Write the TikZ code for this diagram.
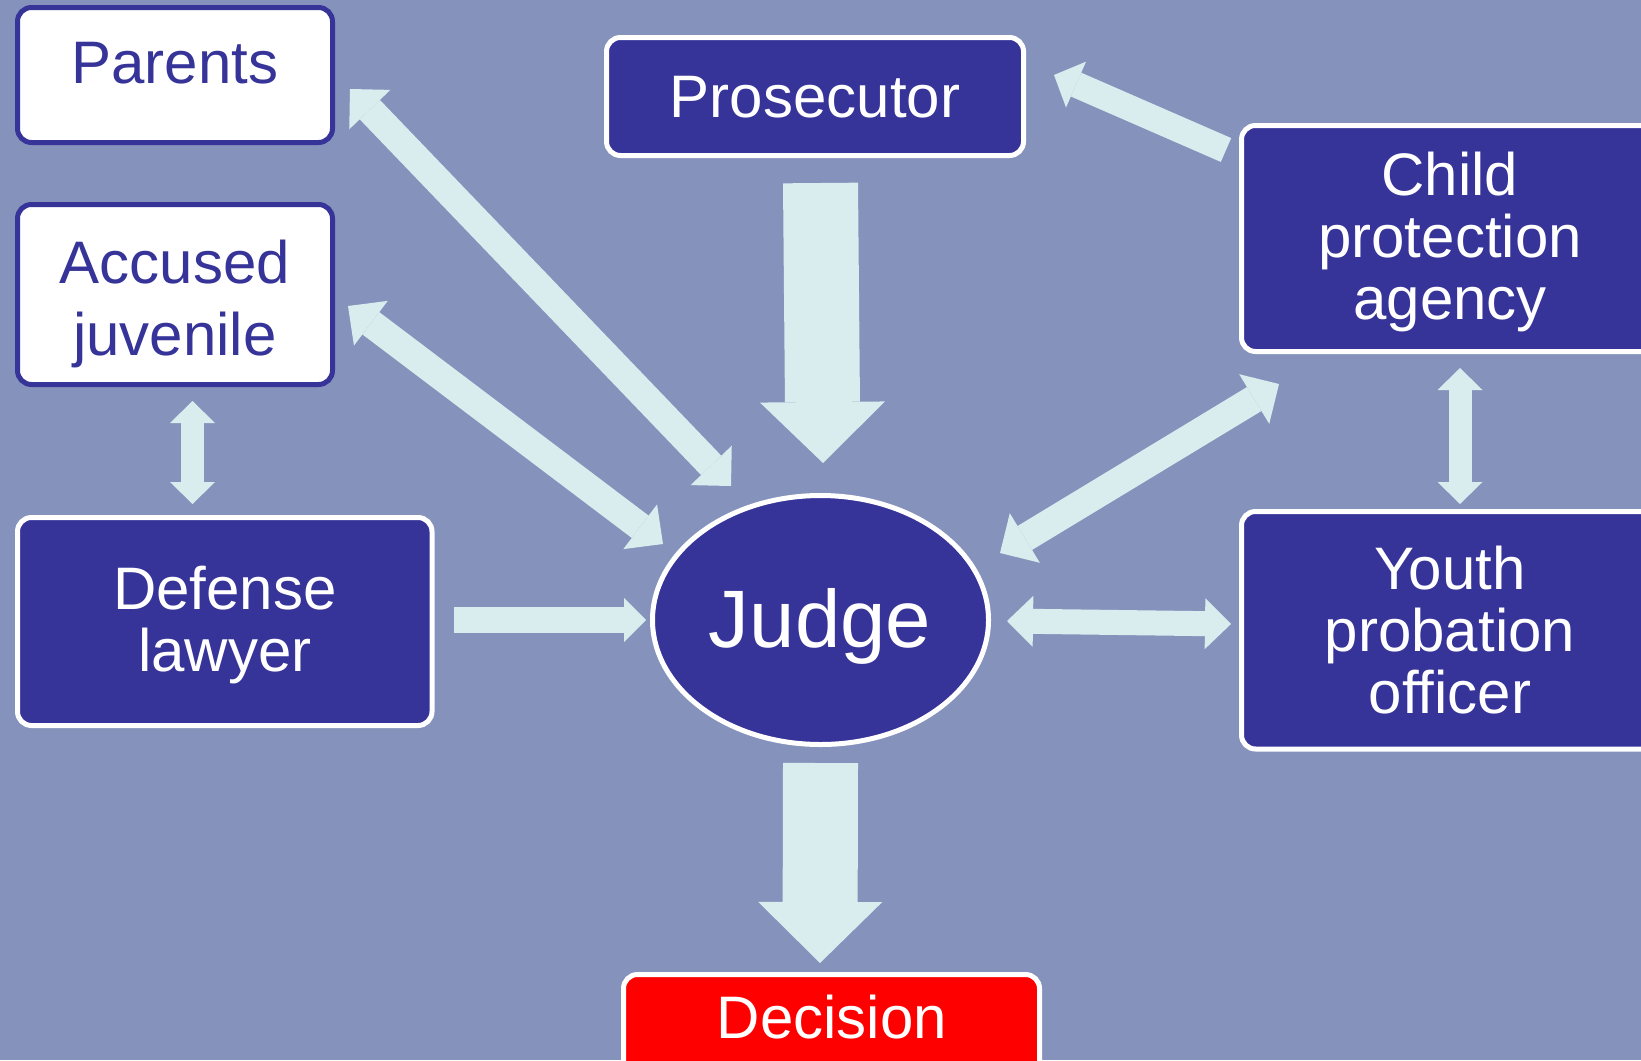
\documentclass[tikz,border=0pt]{standalone}
\usepackage{fontspec}
\setmainfont{Liberation Sans}
\usetikzlibrary{arrows.meta,shapes.geometric}
\definecolor{bg}{HTML}{8593BC}
\definecolor{navy}{HTML}{363399}
\definecolor{pale}{HTML}{D9ECEE}
\definecolor{redbox}{HTML}{FF0000}
\begin{document}
\begin{tikzpicture}[x=0.5pt,y=-0.5pt,
  box/.style={draw, line width=2.5pt, rounded corners=7pt, rectangle, inner sep=0pt},
  darkbox/.style={box, draw=white, fill=navy},
  lightbox/.style={box, draw=navy, fill=white},
  lbl/.style={font=\fontsize{30}{31.15}\selectfont, align=center, inner sep=0pt, text=white},
  flow/.style={draw=pale, line cap=butt},
]
\fill[bg] (0,0) rectangle (1641,1060);
\useasboundingbox (0,0) rectangle (1641,1060);

% boxes
\node[lightbox, minimum width=157.5pt, minimum height=67.5pt] (parents) at (175,75) {};
\node[lightbox, minimum width=157.5pt, minimum height=90pt] (accused) at (175,294.5) {};
\node[darkbox, minimum width=207.25pt, minimum height=104pt] (defense) at (224.75,621.5) {};
\node[darkbox, minimum width=208.5pt, minimum height=59pt] (prosecutor) at (815,96.5) {};
\node[darkbox, minimum width=209.25pt, minimum height=113pt] (child) at (1450.75,238.5) {};
\node[darkbox, minimum width=209.25pt, minimum height=118.75pt] (youth) at (1450.75,630.25) {};
\node[box, draw=white, fill=redbox, minimum width=208pt, minimum height=59pt] (decision) at (831.5,1033.5) {};
\node[draw=white, fill=navy, ellipse, line width=2.5pt, minimum width=168pt, minimum height=124.5pt, inner sep=0pt] (judge) at (820.5,620) {};

% labels
\node[lbl, text=navy, anchor=base] (parentsT) at (175,83) {Parents};
\node[lbl, text=navy, font=\fontsize{30}{36}\selectfont] (accusedT) at (175,304) {Accused\\juvenile};
\node[lbl] (defenseT) at (225,625) {Defense\\lawyer};
\node[lbl, anchor=base] (prosecutorT) at (815,117) {Prosecutor};
\node[lbl] (childT) at (1450,242) {Child\\protection\\agency};
\node[lbl] (youthT) at (1450,630) {Youth\\probation\\officer};
\node[lbl, font=\fontsize{40.75}{45}\selectfont, anchor=base] (judgeT) at (820,647) {Judge};
\node[lbl, anchor=base] (decisionT) at (832,1038) {Decision};

% arrow end points
\coordinate (pj1) at (820.5,183);  \coordinate (pj2) at (823,463);
\coordinate (jd1) at (820.5,763);  \coordinate (jd2) at (820,963);
\coordinate (dj1) at (454,620);    \coordinate (dj2) at (646,620);
\coordinate (ad1) at (192.5,401);  \coordinate (ad2) at (192.5,504);
\coordinate (cy1) at (1460,368);   \coordinate (cy2) at (1460,504);
\coordinate (cp1) at (1226,150);   \coordinate (cp2) at (1054,75);
\coordinate (paj1) at (350,89);    \coordinate (paj2) at (731,486);
\coordinate (acj1) at (348,306);   \coordinate (acj2) at (663,544);
\coordinate (jc1) at (1000,553);   \coordinate (jc2) at (1279,384);
\coordinate (jy1) at (1007,621);   \coordinate (jy2) at (1231,624);

% arrows
\draw[flow, line width=37.5pt, -{Triangle[length=30.5pt,width=62.5pt,line width=0pt,fill=pale]}] (pj1) -- (pj2);
\draw[flow, line width=37.5pt, -{Triangle[length=30.5pt,width=62pt,line width=0pt,fill=pale]}] (jd1) -- (jd2);
\draw[flow, line width=13pt, -{Triangle[length=11pt,width=22pt,line width=0pt,fill=pale]}] (dj1) -- (dj2);
\draw[flow, line width=11.5pt, {Triangle[length=11pt,width=22.5pt,line width=0pt,fill=pale]}-{Triangle[length=11pt,width=22.5pt,line width=0pt,fill=pale]}] (ad1) -- (ad2);
\draw[flow, line width=11.5pt, {Triangle[length=11pt,width=22.5pt,line width=0pt,fill=pale]}-{Triangle[length=11pt,width=22.5pt,line width=0pt,fill=pale]}] (cy1) -- (cy2);
\draw[flow, line width=13pt, -{Triangle[length=12pt,width=25pt,line width=0pt,fill=pale]}] (cp1) -- (cp2);
\draw[flow, line width=14pt, {Triangle[length=14.3pt,width=28.5pt,line width=0pt,fill=pale]}-{Triangle[length=14.3pt,width=28.5pt,line width=0pt,fill=pale]}] (paj1) -- (paj2);
\draw[flow, line width=14pt, {Triangle[length=14.3pt,width=28pt,line width=0pt,fill=pale]}-{Triangle[length=14.3pt,width=28pt,line width=0pt,fill=pale]}] (acj1) -- (acj2);
\draw[flow, line width=14pt, {Triangle[length=14.5pt,width=29pt,line width=0pt,fill=pale]}-{Triangle[length=14.5pt,width=29pt,line width=0pt,fill=pale]}] (jc1) -- (jc2);
\draw[flow, line width=12.5pt, {Triangle[length=13pt,width=25.5pt,line width=0pt,fill=pale]}-{Triangle[length=13pt,width=25.5pt,line width=0pt,fill=pale]}] (jy1) -- (jy2);
\end{tikzpicture}
\end{document}
